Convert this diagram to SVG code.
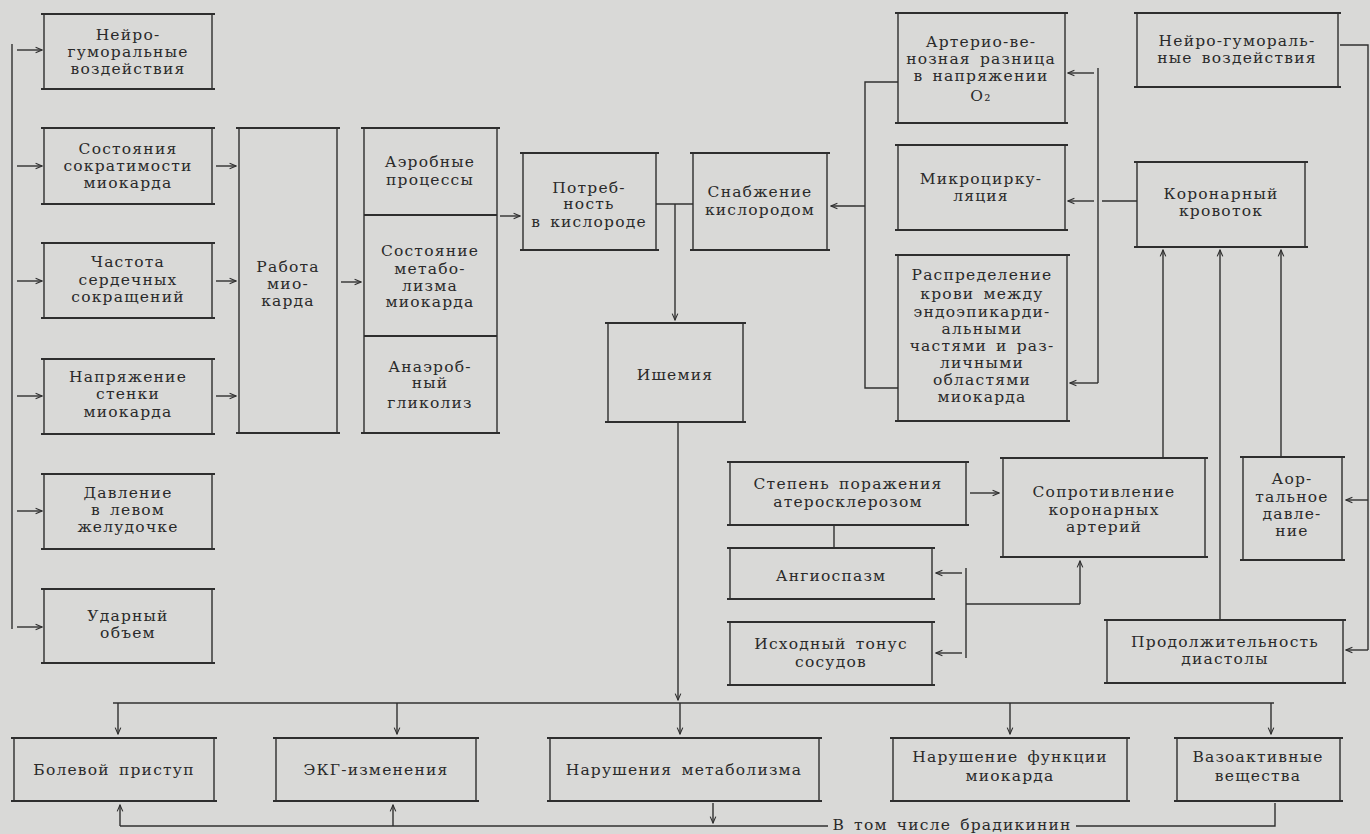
<svg xmlns="http://www.w3.org/2000/svg" width="1370" height="834" viewBox="0 0 1370 834">
<defs>
<style>
.bg{fill:#d9d9d7}
.box{fill:none;stroke:#2e2e2e;stroke-width:1.4}
.rule{fill:none;stroke:#2e2e2e;stroke-width:2.2}
.c{fill:none;stroke:#303030;stroke-width:1.4}
.a{fill:none;stroke:#303030;stroke-width:1.4;marker-end:url(#ah)}
text{font-family:"DejaVu Serif","Liberation Serif",serif;font-size:15.5px;fill:#2a2a2a;text-anchor:middle;letter-spacing:1.2px;word-spacing:3px}
</style>
<marker id="ah" viewBox="0 0 10 10" refX="9" refY="5" markerWidth="8" markerHeight="8" markerUnits="userSpaceOnUse" orient="auto">
<path d="M1,1.5 L9,5 L1,8.5" fill="none" stroke="#303030" stroke-width="1.4"/>
</marker>
</defs>
<rect class="bg" x="0" y="0" width="1370" height="834"/>

<g id="connectors">
<path class="c" d="M12,44 V629"/>
<path class="a" d="M17,50 H42"/>
<path class="a" d="M17,166 H42"/>
<path class="a" d="M17,281 H42"/>
<path class="a" d="M17,396 H42"/>
<path class="a" d="M17,511 H42"/>
<path class="a" d="M17,627 H42"/>
<path class="a" d="M216,166 H236"/>
<path class="a" d="M216,281 H236"/>
<path class="a" d="M216,396 H236"/>
<path class="a" d="M341,282 H361"/>
<path class="a" d="M500,216 H520"/>
<path class="c" d="M656,204 H693"/>
<path class="a" d="M675,204 V320"/>
<path class="a" d="M678,422 V700"/>
<path class="c" d="M113,703 H1274"/>
<path class="a" d="M118,703 V734"/>
<path class="a" d="M397,703 V734"/>
<path class="a" d="M680,703 V734"/>
<path class="a" d="M1010,703 V734"/>
<path class="a" d="M1271,703 V734"/>
<path class="a" d="M713,803 V823"/>
<path class="c" d="M120,826 H828"/>
<path class="c" d="M1076,826 H1275 V803"/>
<path class="a" d="M120,826 V805"/>
<path class="a" d="M393,826 V805"/>
<path class="c" d="M898,82 H865 V388 H898"/>
<path class="a" d="M865,206 H831"/>
<path class="c" d="M1098,68 V383"/>
<path class="a" d="M1094,73 H1068"/>
<path class="a" d="M1094,201 H1068"/>
<path class="a" d="M1098,383 H1070"/>
<path class="c" d="M1137,201 H1102"/>
<path class="a" d="M1163,458 V250"/>
<path class="a" d="M1220,620 V250"/>
<path class="a" d="M1281,457 V250"/>
<path class="c" d="M1340,45 H1368 V650"/>
<path class="a" d="M1368,500 H1346"/>
<path class="a" d="M1368,650 H1346"/>
<path class="a" d="M970,493 H999"/>
<path class="c" d="M834,525 V548"/>
<path class="c" d="M966,568 V658"/>
<path class="a" d="M962,573 H936"/>
<path class="a" d="M962,653 H936"/>
<path class="c" d="M966,604 H1080"/>
<path class="a" d="M1080,604 V561"/>
<text x="952" y="830">В том числе брадикинин</text>
</g>

<g id="n-neiro-left">
<rect class="box" x="44" y="14" width="168" height="75"/>
<path class="rule" d="M41,14 H215 M41,89 H215"/>
<text x="128" y="40">Нейро-</text><text x="128" y="57">гуморальные</text><text x="128" y="74">воздействия</text>
</g>
<g id="n-sokrat">
<rect class="box" x="44" y="128" width="168" height="76"/>
<path class="rule" d="M41,128 H215 M41,204 H215"/>
<text x="128" y="154">Состояния</text><text x="128" y="171">сократимости</text><text x="128" y="188">миокарда</text>
</g>
<g id="n-chastota">
<rect class="box" x="44" y="243" width="168" height="75"/>
<path class="rule" d="M41,243 H215 M41,318 H215"/>
<text x="128" y="267">Частота</text><text x="128" y="285">сердечных</text><text x="128" y="302">сокращений</text>
</g>
<g id="n-napr">
<rect class="box" x="44" y="359" width="168" height="75"/>
<path class="rule" d="M41,359 H215 M41,434 H215"/>
<text x="128" y="382">Напряжение</text><text x="128" y="399">стенки</text><text x="128" y="417">миокарда</text>
</g>
<g id="n-davl">
<rect class="box" x="44" y="474" width="168" height="75"/>
<path class="rule" d="M41,474 H215 M41,549 H215"/>
<text x="128" y="498">Давление</text><text x="128" y="515">в левом</text><text x="128" y="532">желудочке</text>
</g>
<g id="n-udar">
<rect class="box" x="44" y="589" width="168" height="74"/>
<path class="rule" d="M41,589 H215 M41,663 H215"/>
<text x="128" y="621">Ударный</text><text x="128" y="638">объем</text>
</g>
<g id="n-rabota">
<rect class="box" x="239" y="128" width="98" height="305"/>
<path class="rule" d="M236,128 H340 M236,433 H340"/>
<text x="288" y="272">Работа</text><text x="288" y="289">мио-</text><text x="288" y="306">карда</text>
</g>
<g id="n-metab">
<rect class="box" x="364" y="128" width="133" height="305"/>
<path class="rule" d="M361,128 H500 M361,433 H500 M364,215 H497 M364,336 H497"/>
<text x="430" y="167">Аэробные</text><text x="430" y="185">процессы</text>
<text x="430" y="256">Состояние</text><text x="430" y="274">метабо-</text><text x="430" y="291">лизма</text><text x="430" y="307">миокарда</text>
<text x="430" y="372">Анаэроб-</text><text x="430" y="388">ный</text><text x="430" y="408">гликолиз</text>
</g>
<g id="n-potreb">
<rect class="box" x="523" y="153" width="133" height="97"/>
<path class="rule" d="M520,153 H659 M520,250 H659"/>
<text x="589" y="193">Потреб-</text><text x="589" y="209">ность</text><text x="589" y="227">в кислороде</text>
</g>
<g id="n-snab">
<rect class="box" x="693" y="153" width="134" height="97"/>
<path class="rule" d="M690,153 H830 M690,250 H830"/>
<text x="760" y="197">Снабжение</text><text x="760" y="215">кислородом</text>
</g>
<g id="n-ishemia">
<rect class="box" x="608" y="323" width="135" height="99"/>
<path class="rule" d="M605,323 H746 M605,422 H746"/>
<text x="675" y="380">Ишемия</text>
</g>
<g id="n-arterio">
<rect class="box" x="898" y="13" width="167" height="110"/>
<path class="rule" d="M895,13 H1068 M895,123 H1068"/>
<text x="981" y="47">Артерио-ве-</text><text x="981" y="64">нозная разница</text><text x="981" y="81">в напряжении</text><text x="981" y="101">O₂</text>
</g>
<g id="n-mikro">
<rect class="box" x="898" y="145" width="167" height="85"/>
<path class="rule" d="M895,145 H1068 M895,230 H1068"/>
<text x="981" y="184">Микроцирку-</text><text x="981" y="201">ляция</text>
</g>
<g id="n-raspred">
<rect class="box" x="898" y="255" width="169" height="166"/>
<path class="rule" d="M895,255 H1070 M895,421 H1070"/>
<text x="982" y="280">Распределение</text><text x="982" y="299">крови между</text><text x="982" y="317">эндоэпикарди-</text><text x="982" y="334">альными</text><text x="982" y="351">частями и раз-</text><text x="982" y="368">личными</text><text x="982" y="385">областями</text><text x="982" y="402">миокарда</text>
</g>
<g id="n-neiro-right">
<rect class="box" x="1137" y="13" width="201" height="74"/>
<path class="rule" d="M1134,13 H1341 M1134,87 H1341"/>
<text x="1237" y="46">Нейро-гумораль-</text><text x="1237" y="63">ные воздействия</text>
</g>
<g id="n-koron">
<rect class="box" x="1137" y="162" width="168" height="85"/>
<path class="rule" d="M1134,162 H1308 M1134,247 H1308"/>
<text x="1221" y="199">Коронарный</text><text x="1221" y="216">кровоток</text>
</g>
<g id="n-soprot">
<rect class="box" x="1003" y="458" width="202" height="99"/>
<path class="rule" d="M1000,458 H1208 M1000,557 H1208"/>
<text x="1104" y="497">Сопротивление</text><text x="1104" y="515">коронарных</text><text x="1104" y="532">артерий</text>
</g>
<g id="n-aort">
<rect class="box" x="1243" y="457" width="99" height="103"/>
<path class="rule" d="M1240,457 H1345 M1240,560 H1345"/>
<text x="1292" y="484">Аор-</text><text x="1292" y="502">тальное</text><text x="1292" y="519">давле-</text><text x="1292" y="536">ние</text>
</g>
<g id="n-prodolzh">
<rect class="box" x="1107" y="620" width="236" height="63"/>
<path class="rule" d="M1104,620 H1346 M1104,683 H1346"/>
<text x="1225" y="647">Продолжительность</text><text x="1225" y="664">диастолы</text>
</g>
<g id="n-stepen">
<rect class="box" x="730" y="462" width="236" height="63"/>
<path class="rule" d="M727,462 H969 M727,525 H969"/>
<text x="848" y="489">Степень поражения</text><text x="848" y="507">атеросклерозом</text>
</g>
<g id="n-angio">
<rect class="box" x="730" y="548" width="202" height="51"/>
<path class="rule" d="M727,548 H935 M727,599 H935"/>
<text x="831" y="581">Ангиоспазм</text>
</g>
<g id="n-ishod">
<rect class="box" x="730" y="622" width="202" height="63"/>
<path class="rule" d="M727,622 H935 M727,685 H935"/>
<text x="831" y="649">Исходный тонус</text><text x="831" y="667">сосудов</text>
</g>
<g id="n-bol">
<rect class="box" x="14" y="738" width="200" height="63"/>
<path class="rule" d="M11,738 H217 M11,801 H217"/>
<text x="114" y="775">Болевой  приступ</text>
</g>
<g id="n-ekg">
<rect class="box" x="276" y="738" width="200" height="63"/>
<path class="rule" d="M273,738 H479 M273,801 H479"/>
<text x="376" y="775">ЭКГ-изменения</text>
</g>
<g id="n-narmet">
<rect class="box" x="550" y="738" width="269" height="63"/>
<path class="rule" d="M547,738 H822 M547,801 H822"/>
<text x="684" y="775">Нарушения метаболизма</text>
</g>
<g id="n-narfunk">
<rect class="box" x="893" y="738" width="234" height="63"/>
<path class="rule" d="M890,738 H1130 M890,801 H1130"/>
<text x="1010" y="762">Нарушение  функции</text><text x="1010" y="781">миокарда</text>
</g>
<g id="n-vazo">
<rect class="box" x="1177" y="738" width="163" height="63"/>
<path class="rule" d="M1174,738 H1343 M1174,801 H1343"/>
<text x="1258" y="762">Вазоактивные</text><text x="1258" y="781">вещества</text>
</g>
</svg>
